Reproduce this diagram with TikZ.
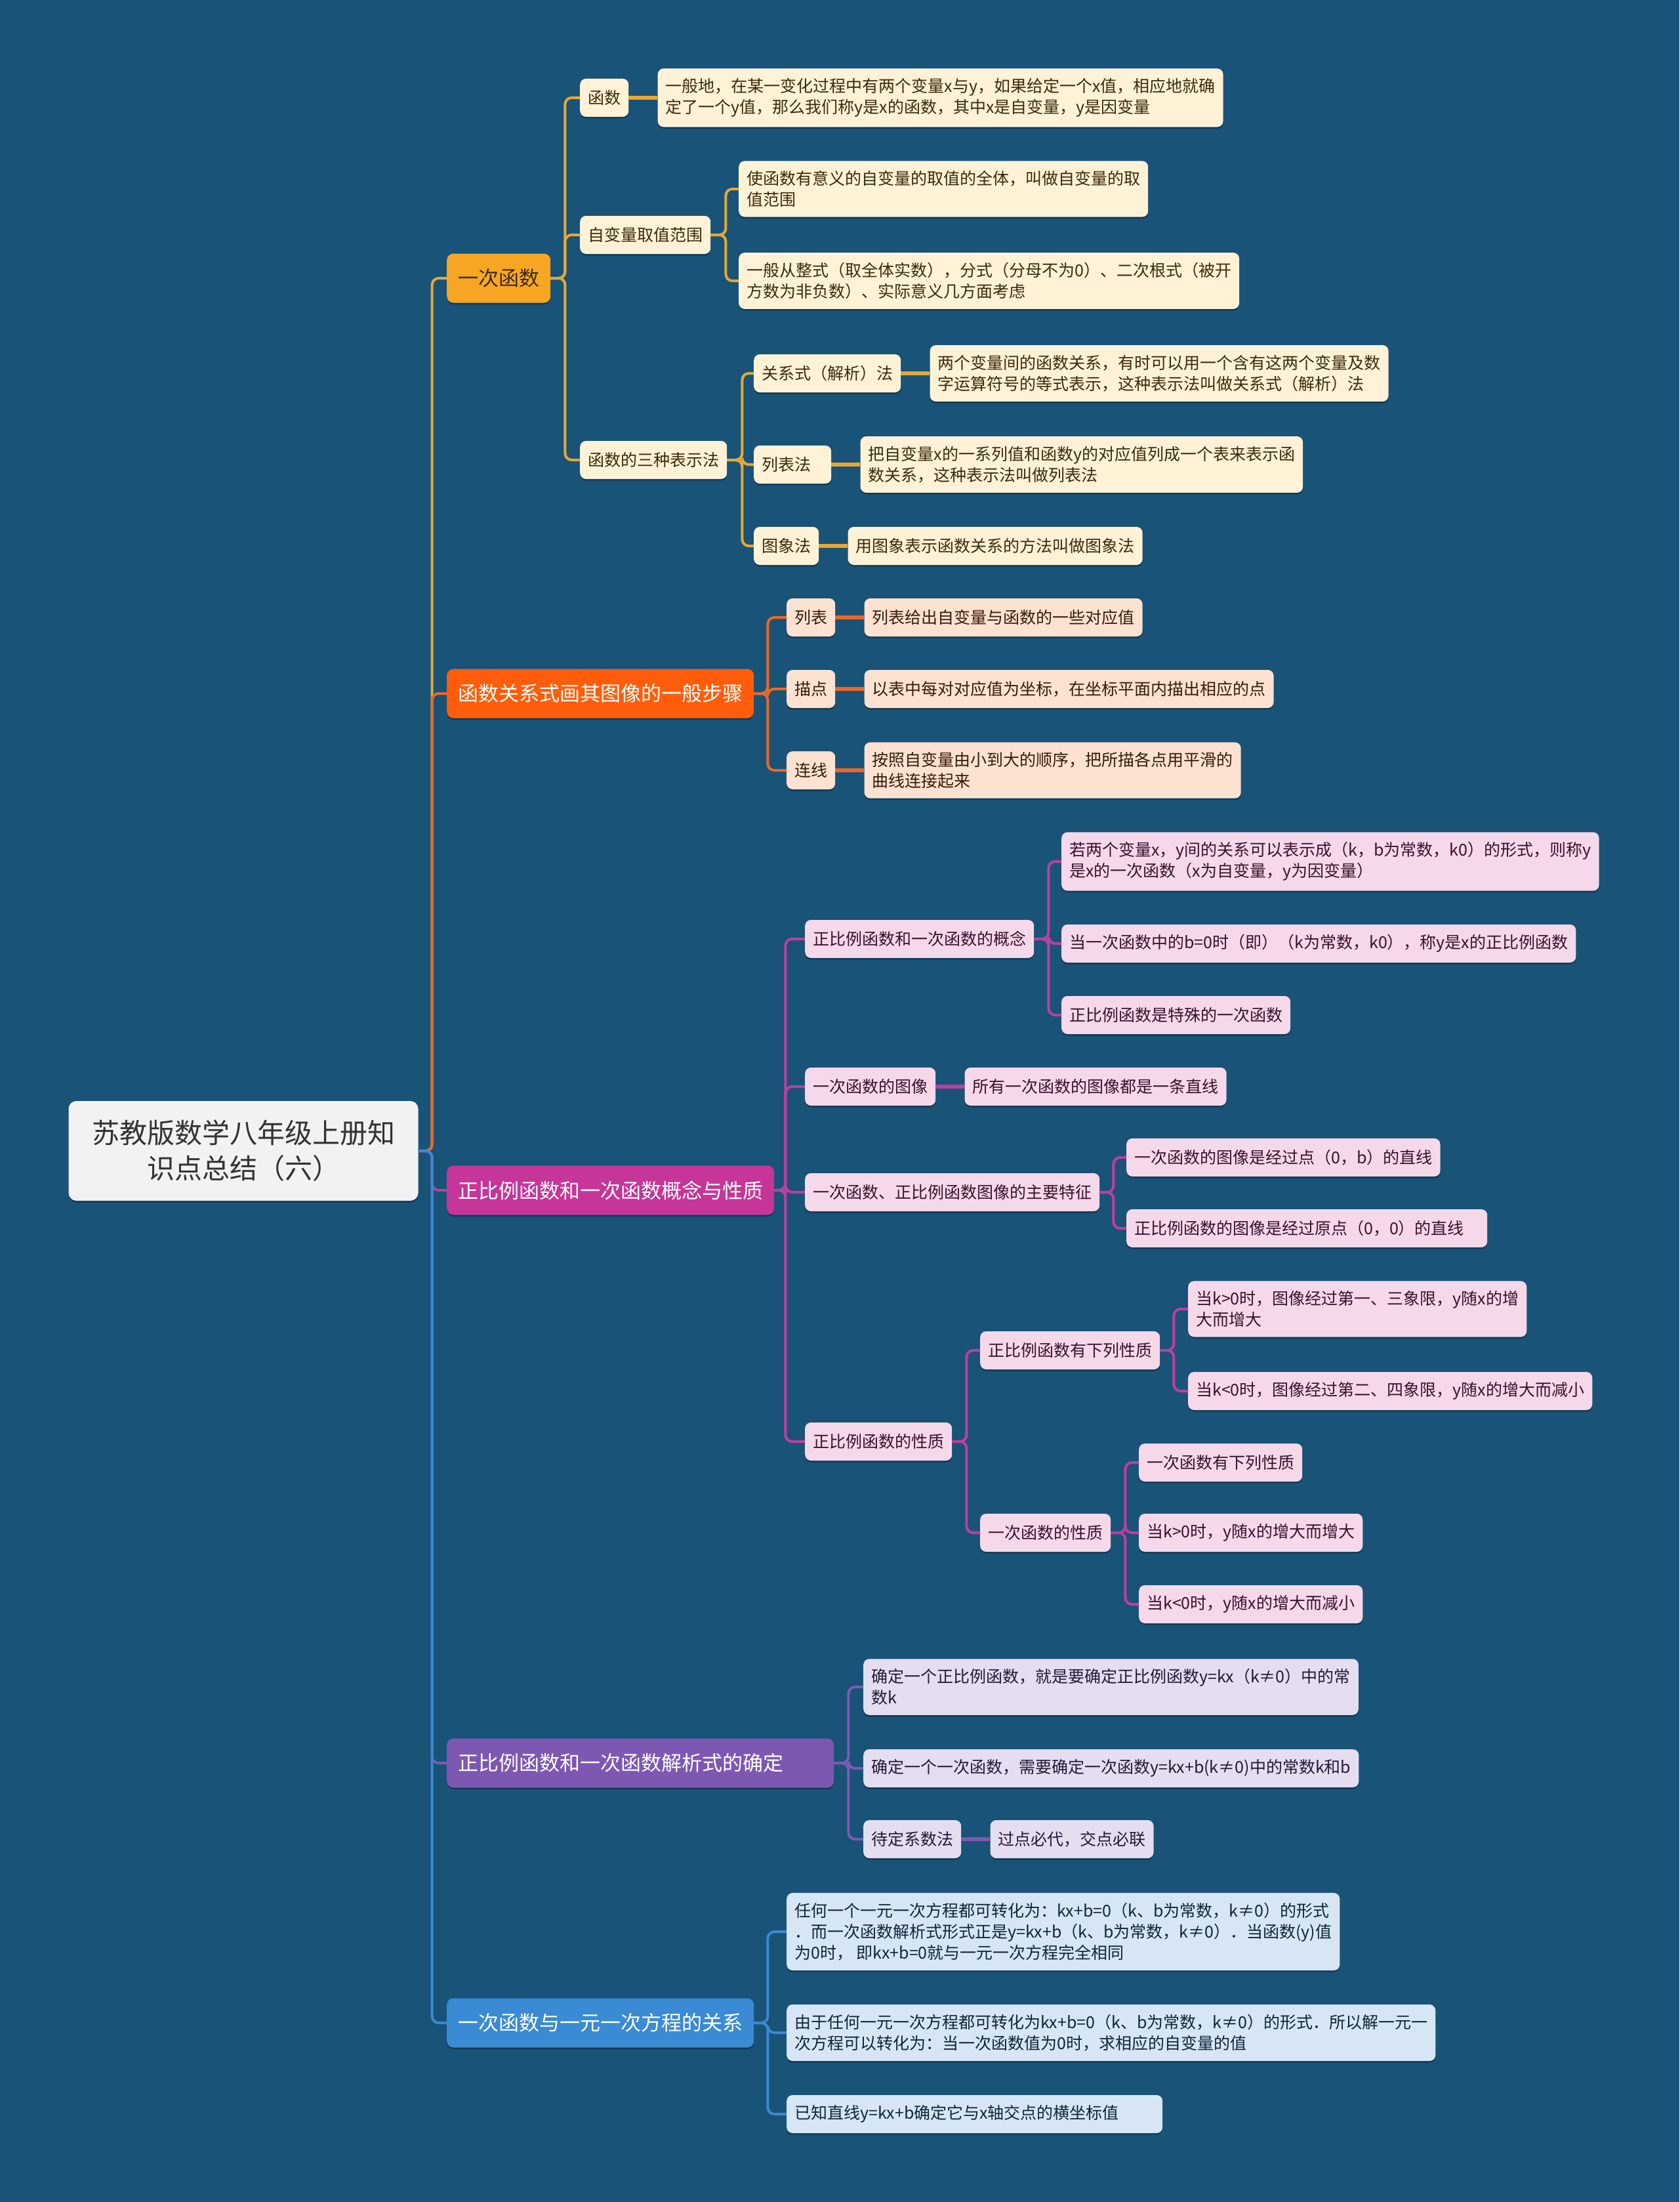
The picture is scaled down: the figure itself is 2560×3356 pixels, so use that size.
\documentclass[tikz,border=0pt]{standalone}
\usepackage{fontspec}
\setmainfont{Noto Sans CJK SC}
\usetikzlibrary{positioning,shadows}
\definecolor{bgblue}{RGB}{25,83,120}
\definecolor{rootgray}{RGB}{242,242,242}
\definecolor{goldtop}{RGB}{247,166,35}
\definecolor{goldline}{RGB}{230,168,52}
\definecolor{goldleaf}{RGB}{255,242,214}
\definecolor{goldtext}{RGB}{60,42,10}
\definecolor{flametop}{RGB}{255,93,12}
\definecolor{flameline}{RGB}{236,104,38}
\definecolor{flameleaf}{RGB}{253,226,210}
\definecolor{flametext}{RGB}{58,26,10}
\definecolor{rosetop}{RGB}{198,54,152}
\definecolor{roseline}{RGB}{190,62,158}
\definecolor{roseleaf}{RGB}{246,216,235}
\definecolor{rosetext}{RGB}{58,16,46}
\definecolor{violettop}{RGB}{125,88,178}
\definecolor{violetline}{RGB}{124,90,176}
\definecolor{violetleaf}{RGB}{229,222,240}
\definecolor{violettext}{RGB}{34,26,56}
\definecolor{skytop}{RGB}{58,138,212}
\definecolor{skyline}{RGB}{58,137,208}
\definecolor{skyleaf}{RGB}{214,230,245}
\definecolor{skytext}{RGB}{15,37,56}

\begin{document}
\begin{tikzpicture}[x=1pt, y=-1pt,
  lift/.style={drop shadow={shadow xshift=0pt, shadow yshift=-2.5pt, fill=black, opacity=.3}},
  root/.style={fill=rootgray, rounded corners=12pt, align=center, text=black!80, font=\fontsize{42}{54}\selectfont, minimum width=533pt, minimum height=152pt, lift},
  topic/.style={rounded corners=10pt, anchor=west, font=\fontsize{31}{38}\selectfont, inner xsep=17pt, minimum height=75pt, text=white, lift},
  sub/.style={rounded corners=9pt, anchor=west, align=left, font=\fontsize{25}{32}\selectfont, inner xsep=12pt, inner ysep=15pt, minimum height=58pt, lift},
  leaf/.style={right=44pt of #1},
  gsub/.style={sub, fill=goldleaf, text=goldtext},
  fsub/.style={sub, fill=flameleaf, text=flametext},
  rsub/.style={sub, fill=roseleaf, text=rosetext},
  vsub/.style={sub, fill=violetleaf, text=violettext},
  ssub/.style={sub, fill=skyleaf, text=skytext},
  link/.style={line width=4pt, rounded corners=10pt},
  stub/.style={line width=6pt}
]
\useasboundingbox (0,0) rectangle (2560,3356);
\fill[bgblue] (0,0) rectangle (2560,3356);

\node[root] (root) at (371,1754) {苏教版数学八年级上册知\\识点总结（六）};

% 一次函数
\node[topic, fill=goldtop, text=goldtext] (lin) at (681,424) {一次函数};
\node[gsub] (func) at (884,149) {函数};
\node[gsub, leaf=func] (funcdef) {一般地，在某一变化过程中有两个变量x与y，如果给定一个x值，相应地就确\\定了一个y值，那么我们称y是x的函数，其中x是自变量，y是因变量};
\node[gsub] (dom) at (884,358) {自变量取值范围};
\node[gsub] (domA) at (1126,288) {使函数有意义的自变量的取值的全体，叫做自变量的取\\值范围};
\node[gsub] (domB) at (1126,428) {一般从整式（取全体实数），分式（分母不为0）、二次根式（被开\\方数为非负数）、实际意义几方面考虑};
\node[gsub] (rep) at (884,701) {函数的三种表示法};
\node[gsub] (repA) at (1149,569) {关系式（解析）法};
\node[gsub, leaf=repA] (repAt) {两个变量间的函数关系，有时可以用一个含有这两个变量及数\\字运算符号的等式表示，这种表示法叫做关系式（解析）法};
\node[gsub, text width=94pt] (repB) at (1149,708) {列表法};
\node[gsub, leaf=repB] (repBt) {把自变量x的一系列值和函数y的对应值列成一个表来表示函\\数关系，这种表示法叫做列表法};
\node[gsub] (repC) at (1149,832) {图象法};
\node[gsub, leaf=repC] (repCt) {用图象表示函数关系的方法叫做图象法};

% 画图像的步骤
\node[topic, fill=flametop] (flow) at (681,1057) {函数关系式画其图像的一般步骤};
\node[fsub] (tab) at (1199,941) {列表};
\node[fsub, leaf=tab] (tabT) {列表给出自变量与函数的一些对应值};
\node[fsub] (dot) at (1199,1050) {描点};
\node[fsub, leaf=dot] (dotT) {以表中每对对应值为坐标，在坐标平面内描出相应的点};
\node[fsub] (join) at (1199,1174) {连线};
\node[fsub, leaf=join] (joinT) {按照自变量由小到大的顺序，把所描各点用平滑的\\曲线连接起来};

% 概念与性质
\node[topic, fill=rosetop] (prop) at (681,1814) {正比例函数和一次函数概念与性质};
\node[rsub] (concept) at (1227,1431) {正比例函数和一次函数的概念};
\node[rsub] (conA) at (1618,1313) {若两个变量x，y间的关系可以表示成（k，b为常数，k0）的形式，则称y\\是x的一次函数（x为自变量，y为因变量）};
\node[rsub] (conB) at (1618,1438) {当一次函数中的b=0时（即）（k为常数，k0），称y是x的正比例函数};
\node[rsub] (conC) at (1618,1547) {正比例函数是特殊的一次函数};
\node[rsub] (graph) at (1227,1656) {一次函数的图像};
\node[rsub, leaf=graph] (graphT) {所有一次函数的图像都是一条直线};
\node[rsub] (feat) at (1227,1817) {一次函数、正比例函数图像的主要特征};
\node[rsub] (featA) at (1717,1764) {一次函数的图像是经过点（0，b）的直线};
\node[rsub, text width=526pt] (featB) at (1717,1872) {正比例函数的图像是经过原点（0，0）的直线};
\node[rsub] (nature) at (1227,2197) {正比例函数的性质};
\node[rsub] (dir) at (1494,2058) {正比例函数有下列性质};
\node[rsub] (dirA) at (1811,1995) {当k>0时，图像经过第一、三象限，y随x的增\\大而增大};
\node[rsub] (dirB) at (1811,2120) {当k<0时，图像经过第二、四象限，y随x的增大而减小};
\node[rsub] (lprop) at (1494,2336) {一次函数的性质};
\node[rsub] (lpA) at (1736,2229) {一次函数有下列性质};
\node[rsub] (lpB) at (1736,2336) {当k>0时，y随x的增大而增大};
\node[rsub] (lpC) at (1736,2445) {当k<0时，y随x的增大而减小};

% 解析式的确定
\node[topic, fill=violettop, text width=556pt, align=left] (expr) at (681,2687) {正比例函数和一次函数解析式的确定};
\node[vsub] (exA) at (1316,2571) {确定一个正比例函数，就是要确定正比例函数y=kx（k≠0）中的常\\数k};
\node[vsub] (exB) at (1316,2695) {确定一个一次函数，需要确定一次函数y=kx+b(k≠0)中的常数k和b};
\node[vsub] (undet) at (1316,2803) {待定系数法};
\node[vsub, leaf=undet] (undetT) {过点必代，交点必联};

% 与方程的关系
\node[topic, fill=skytop] (eqn) at (681,3083) {一次函数与一元一次方程的关系};
\node[ssub] (eqA) at (1199,2944) {任何一个一元一次方程都可转化为：kx+b=0（k、b为常数，k≠0）的形式\\．而一次函数解析式形式正是y=kx+b（k、b为常数，k≠0）．当函数(y)值\\为0时， 即kx+b=0就与一元一次方程完全相同};
\node[ssub] (eqB) at (1199,3098) {由于任何一元一次方程都可转化为kx+b=0（k、b为常数，k≠0）的形式．所以解一元一\\次方程可以转化为：当一次函数值为0时，求相应的自变量的值};
\node[ssub, text width=549pt] (eqC) at (1199,3222) {已知直线y=kx+b确定它与x轴交点的横坐标值};

% connectors
\foreach \t/\c in {lin/goldline, flow/flameline, prop/roseline, expr/violetline, eqn/skyline}
  \draw[link, draw=\c] (root.east) -- ++(21pt,0) |- (\t.west);

\foreach \c in {func,dom,rep} \draw[link, goldline] (lin.east) -- ++(22pt,0) |- (\c.west);
\foreach \c in {domA,domB} \draw[link, goldline] (dom.east) -- ++(23pt,0) |- (\c.west);
\foreach \c in {repA,repB,repC} \draw[link, goldline] (rep.east) -- ++(23pt,0) |- (\c.west);
\foreach \p/\c in {func/funcdef, repA/repAt, repB/repBt, repC/repCt} \draw[stub, goldline] (\p) -- (\c);

\foreach \c in {tab,dot,join} \draw[link, flameline] (flow.east) -- ++(21pt,0) |- (\c.west);
\foreach \p/\c in {tab/tabT, dot/dotT, join/joinT} \draw[stub, flameline] (\p) -- (\c);

\foreach \c in {concept,graph,feat,nature} \draw[link, roseline] (prop.east) -- ++(17pt,0) |- (\c.west);
\foreach \c in {conA,conB,conC} \draw[link, roseline] (concept.east) -- ++(22pt,0) |- (\c.west);
\foreach \c in {featA,featB} \draw[link, roseline] (feat.east) -- ++(21pt,0) |- (\c.west);
\foreach \c in {dir,lprop} \draw[link, roseline] (nature.east) -- ++(22pt,0) |- (\c.west);
\foreach \c in {dirA,dirB} \draw[link, roseline] (dir.east) -- ++(21pt,0) |- (\c.west);
\foreach \c in {lpA,lpB,lpC} \draw[link, roseline] (lprop.east) -- ++(22pt,0) |- (\c.west);
\draw[stub, roseline] (graph) -- (graphT);

\foreach \c in {exA,exB,undet} \draw[link, violetline] (expr.east) -- ++(22pt,0) |- (\c.west);
\draw[stub, violetline] (undet) -- (undetT);

\foreach \c in {eqA,eqB,eqC} \draw[link, skyline] (eqn.east) -- ++(21pt,0) |- (\c.west);
\end{tikzpicture}
\end{document}
